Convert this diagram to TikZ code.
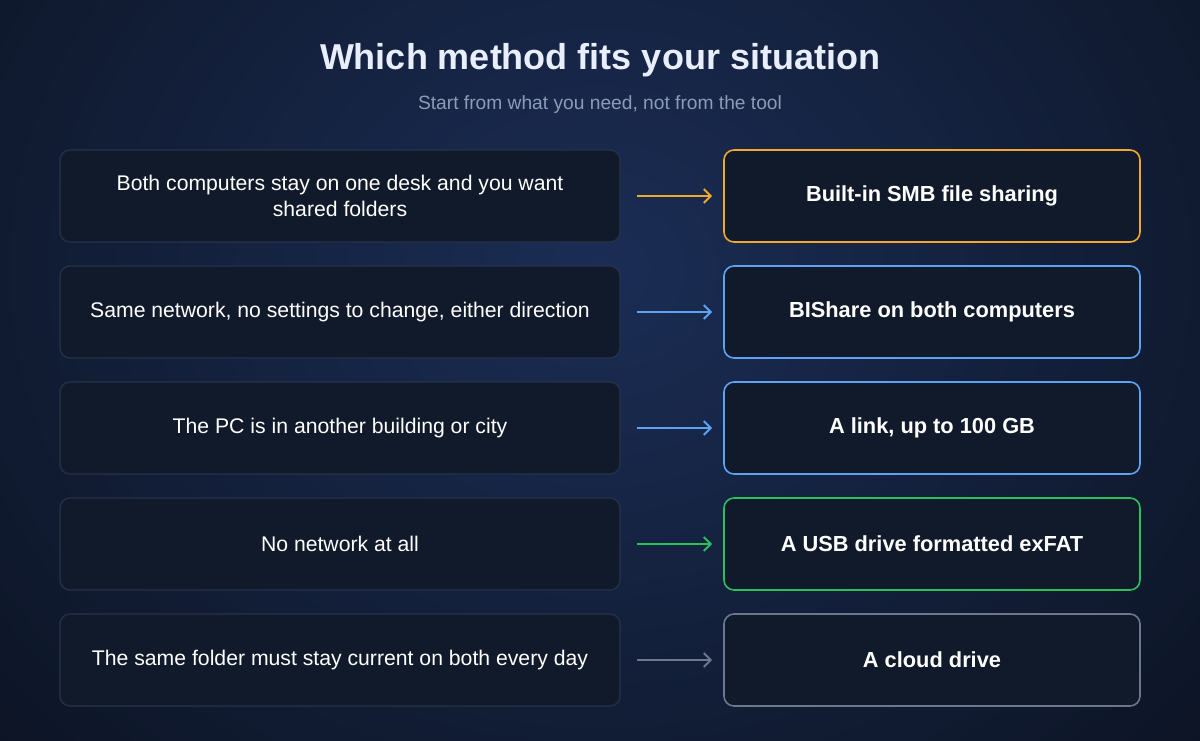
\documentclass[tikz,border=0pt]{standalone}
\usepackage{fontspec}
\setmainfont{Liberation Sans}
\usetikzlibrary{arrows.meta}
\definecolor{bgout}{HTML}{0B1220}
\definecolor{bgin}{HTML}{1B2D55}
\definecolor{boxfill}{HTML}{111A2B}
\definecolor{boxline}{HTML}{27324A}
\definecolor{cor}{HTML}{F0A92E}
\definecolor{cbl}{HTML}{5EA2F2}
\definecolor{cgr}{HTML}{2BC15A}
\definecolor{cgy}{HTML}{6B778C}
\definecolor{ttl}{HTML}{E8EEFC}
\definecolor{sub}{HTML}{8B9BB8}
\begin{document}
\begin{tikzpicture}[x=1pt,y=-1pt,
  cond/.style={draw=boxline,line width=1.2pt,fill=boxfill,rounded corners=10pt,minimum width=560pt,minimum height=92pt,align=center,text=white,font=\fontsize{21.2}{26}\selectfont,inner sep=0pt},
  res/.style={draw=#1,line width=1.6pt,fill=boxfill,rounded corners=10pt,minimum width=416pt,minimum height=92pt,align=center,text=white,font=\bfseries\fontsize{21.8}{26}\selectfont,inner sep=0pt},
  arr/.style={draw=#1,line width=2pt,-{Straight Barb[length=7pt,width=14pt]}}]
\useasboundingbox (0,0) rectangle (1200,740);
\begin{scope}
\clip (0,0) rectangle (1200,740);
\shade[inner color=bgin,outer color=bgout] (-300,-500) rectangle (1500,1040);
\end{scope}
\node[text=ttl,font=\bfseries\fontsize{36}{42}\selectfont] (title) at (600,60) {Which method fits your situation};
\node[text=sub,font=\fontsize{19.2}{22}\selectfont] (subtitle) at (600,105) {Start from what you need, not from the tool};
\foreach \i/\c/\cl/\rt in {
 1/{Both computers stay on one desk and you want\\shared folders}/cor/{Built-in SMB file sharing},
 2/{Same network, no settings to change, either direction}/cbl/{BIShare on both computers},
 3/{The PC is in another building or city}/cbl/{A link, up to 100 GB},
 4/{No network at all}/cgr/{A USB drive formatted exFAT},
 5/{The same folder must stay current on both every day}/cgy/{A cloud drive}}{
  \pgfmathsetmacro{\yy}{196+116*(\i-1)}
  \node[cond] (c\i) at (340,\yy) {\c};
  \node[res=\cl] (r\i) at (932,\yy) {\rt};
  \draw[arr=\cl] ([xshift=16pt]c\i.east) -- ([xshift=-11pt]r\i.west);
}
\end{tikzpicture}
\end{document}
